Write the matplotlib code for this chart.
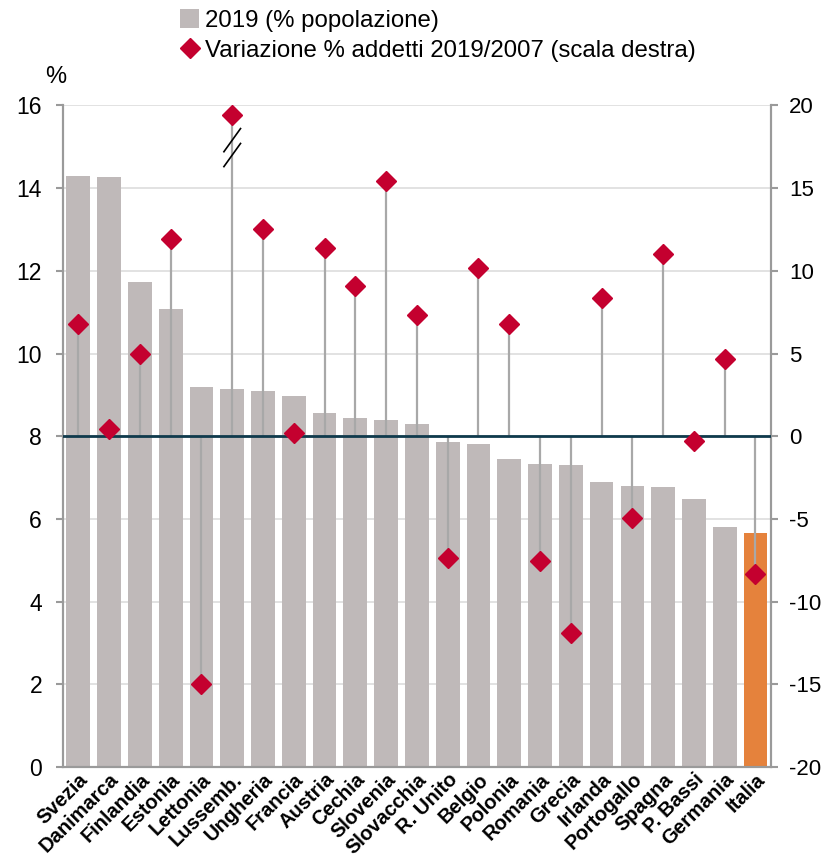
import numpy as np
import matplotlib
matplotlib.use("Agg")
import matplotlib.pyplot as plt
from matplotlib.patches import Patch
from matplotlib.lines import Line2D

plt.rcParams['font.family'] = ['Liberation Sans', 'DejaVu Sans']
plt.rcParams['axes.unicode_minus'] = False

# data
paesi = ['Svezia', 'Danimarca', 'Finlandia', 'Estonia', 'Lettonia', 'Lussemb.',
         'Ungheria', 'Francia', 'Austria', 'Cechia', 'Slovenia', 'Slovacchia',
         'R. Unito', 'Belgio', 'Polonia', 'Romania', 'Grecia', 'Irlanda',
         'Portogallo', 'Spagna', 'P. Bassi', 'Germania', 'Italia']
quota_2019 = [14.3, 14.27, 11.74, 11.08, 9.2, 9.15, 9.1, 8.98, 8.55, 8.45, 8.4, 8.3,
              7.87, 7.82, 7.46, 7.33, 7.31, 6.9, 6.8, 6.76, 6.49, 5.81, 5.67]
var_addetti = [6.8, 0.46, 5.0, 11.9, -15.0, 19.4, 12.5, 0.2, 11.4, 9.1, 15.4, 7.3,
               -7.35, 10.2, 6.8, -7.55, -11.9, 8.35, -4.97, 11.0, -0.26, 4.67, -8.36]

grigio = '#BFB9B9'
arancio = '#E5823C'
rosso = '#C4002F'
stem_col = '#A8A8A8'
axis_col = '#9A9A9A'

fig = plt.figure(figsize=(8.28, 8.57), dpi=100)
ax = fig.add_axes([0.076, 0.105, 0.855, 0.772])
ax2 = ax.twinx()

x = np.arange(len(paesi))
colori = [arancio if p == 'Italia' else grigio for p in paesi]
ax.bar(x, quota_2019, width=0.77, color=colori, zorder=2)

ax.set_ylim(0, 16)
ax.set_yticks(np.arange(0, 17, 2))
ax.set_xlim(-0.5, len(paesi) - 0.5)
ax.yaxis.grid(True, color='#DDDDDD', lw=1.2, zorder=0)
ax.set_axisbelow(True)

ax2.set_ylim(-20, 20)
ax2.set_yticks(np.arange(-20, 21, 5))
ax2.vlines(x, 0, var_addetti, color=stem_col, lw=1.6, zorder=2)
ax2.axhline(0, color='#0F3A4C', lw=2, zorder=3)
ax2.plot(x, var_addetti, ls='none', marker='D', ms=10.5, color=rosso,
         markeredgecolor=rosso, zorder=4)

# segni di interruzione sulla barra del Lussemburgo
i_lux = paesi.index('Lussemb.')
for y0 in (17.2, 16.3):
    ax2.plot([i_lux - 0.27, i_lux + 0.27], [y0, y0 + 1.4], color='black', lw=1.2, zorder=5)

for a in (ax, ax2):
    for s in a.spines.values():
        s.set_color(axis_col)
        s.set_linewidth(1.5)
    a.spines['top'].set_visible(False)
    a.tick_params(axis='y', direction='out', length=5, color=axis_col, width=1.5,
                  labelsize=16.5, pad=10)
ax2.tick_params(axis='y', labelsize=16, pad=8)

ax.tick_params(axis='x', length=0, pad=2)
ax.set_xticks(x)
ax.set_xticklabels(paesi, rotation=45, ha='right', rotation_mode='anchor',
                   fontsize=14.5, fontweight='bold')

fig.text(0.054, 0.903, '%', fontsize=17, ha='left', va='baseline')

handles = [Patch(facecolor=grigio, edgecolor='none'),
           Line2D([], [], ls='none', marker='D', ms=10, color=rosso)]
labels = ['2019 (% popolazione)', 'Variazione % addetti 2019/2007 (scala destra)']
fig.legend(handles, labels, loc='upper left', bbox_to_anchor=(0.2, 1.006),
           frameon=False, fontsize=17.3, handlelength=0.8, handleheight=0.8,
           handletextpad=0.25, labelspacing=0.3, borderaxespad=0.2)

fig.savefig('out.png', dpi=100)
